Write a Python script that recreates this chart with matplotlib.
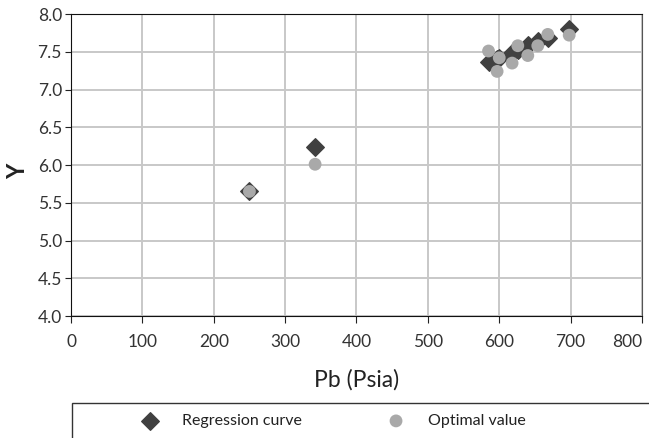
import matplotlib
matplotlib.use("Agg")
import matplotlib.pyplot as plt
from matplotlib.patches import Rectangle

plt.rcParams['font.family'] = ['Lato', 'DejaVu Sans']

# Pb (psia) values and Y values
pb = [250, 342, 585, 597, 600, 618, 626, 640, 654, 668, 698]
y_regression = [5.65, 6.24, 7.37, 7.40, 7.42, 7.49, 7.53, 7.59, 7.64, 7.68, 7.80]
y_optimal = [5.65, 6.01, 7.51, 7.24, 7.42, 7.35, 7.58, 7.45, 7.58, 7.73, 7.72]

fig = plt.figure(figsize=(6.49, 4.38), dpi=100)
ax = fig.add_axes([0.1094, 0.2785, 0.8798, 0.6895])

reg = ax.scatter(pb, y_regression, marker='D', s=80, color='#404040',
                 edgecolors='#404040', zorder=3, label='Regression curve')
opt = ax.scatter(pb, y_optimal, marker='o', s=85, color='#a9a9a9',
                 edgecolors='none', zorder=4, label='Optimal value')

ax.set_xlim(0, 800)
ax.set_ylim(4.0, 8.0)
ax.set_xticks(range(0, 801, 100))
ax.set_yticks([4.0, 4.5, 5.0, 5.5, 6.0, 6.5, 7.0, 7.5, 8.0])
ax.set_yticklabels(['%.1f' % v for v in ax.get_yticks()])
ax.grid(True, color='#c8c8c8', linewidth=1.4)
ax.set_axisbelow(True)
ax.tick_params(labelsize=12.5, labelcolor='#333333', color='#222222')
ax.tick_params(axis='x', length=5, pad=8)
ax.tick_params(axis='y', length=4.5, pad=2)
ax.get_xticklabels()[-1].set_ha('right')
ax.get_xticklabels()[-1].set_x(800)
for s in ['left', 'bottom', 'top']:
    ax.spines[s].set_color('#111111')
ax.spines['right'].set_color('#555555')

ax.set_xlabel('Pb (Psia)', fontsize=16.5, color='#222222', labelpad=14)
ax.set_ylabel('Y', fontsize=17, fontweight='bold', color='#222222')
ax.yaxis.set_label_coords(-0.074, 0.48)

# legend box, running off the right and bottom edges
fig.patches.append(Rectangle((72 / 649, -0.05), 0.95, 0.05 + 35 / 438,
                             transform=fig.transFigure, fill=False,
                             edgecolor='#333333', linewidth=1.0))
fig.legend(handles=[reg, opt], loc='center left',
           bbox_to_anchor=(134 / 649, 17 / 438), ncol=2, frameon=False,
           borderpad=0, borderaxespad=0, fontsize=11.5, columnspacing=4.9,
           handletextpad=1.0, labelcolor='#222222')

fig.savefig('out.png', dpi=100)
